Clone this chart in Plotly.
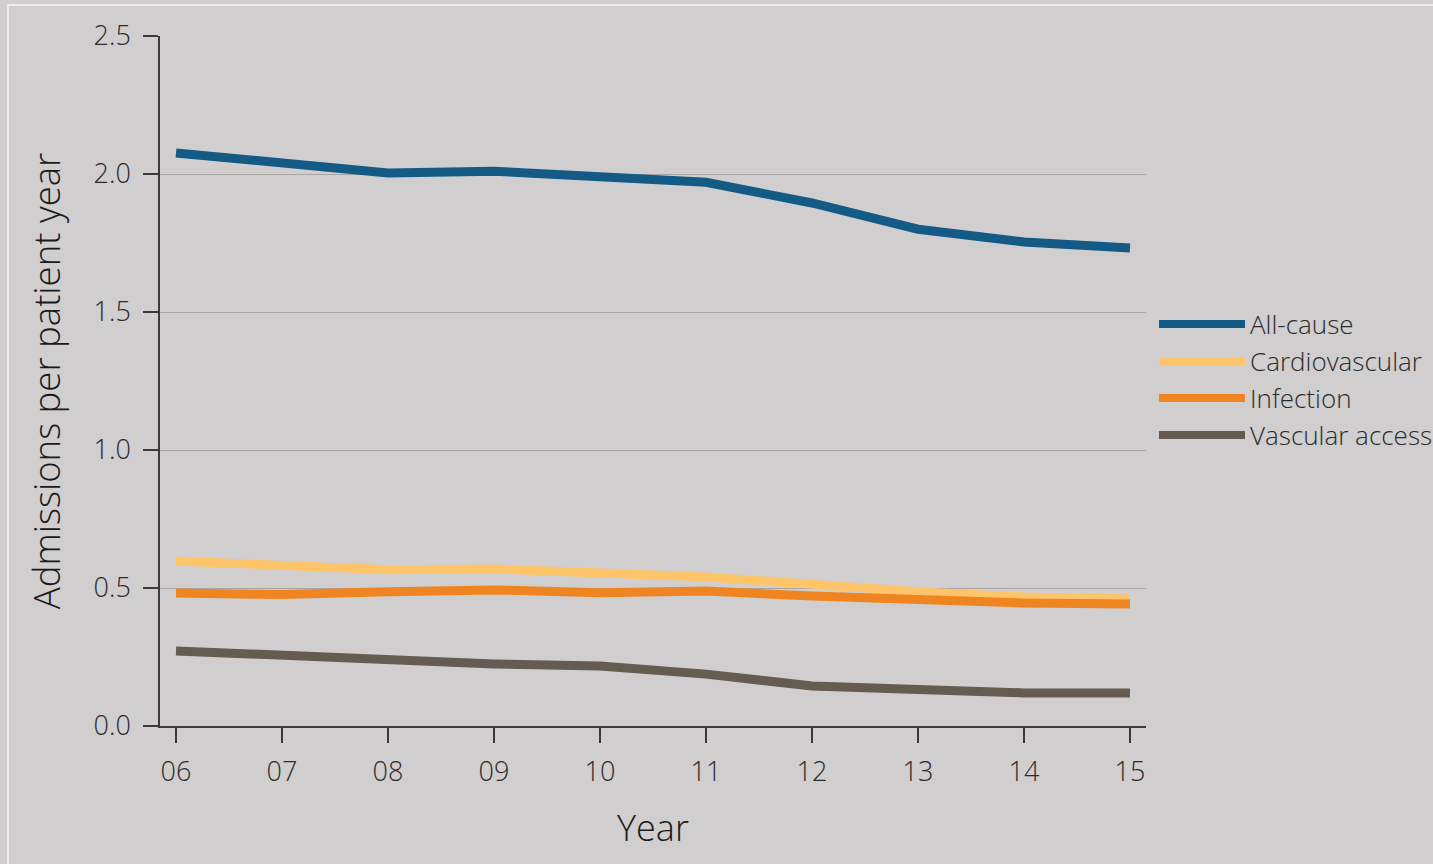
import plotly.graph_objects as go

# Hospital admissions per patient year, by cause
years = ["06", "07", "08", "09", "10", "11", "12", "13", "14", "15"]
all_cause = [2.076, 2.04, 2.004, 2.01, 1.99, 1.97, 1.895, 1.80, 1.754, 1.732]
cardiovascular = [0.598, 0.583, 0.566, 0.569, 0.558, 0.540, 0.514, 0.486, 0.467, 0.460]
infection = [0.482, 0.476, 0.486, 0.493, 0.483, 0.489, 0.471, 0.457, 0.446, 0.442]
vascular_access = [0.272, 0.254, 0.239, 0.225, 0.217, 0.188, 0.145, 0.130, 0.120, 0.120]

series_names = ["All-cause", "Cardiovascular", "Infection", "Vascular access"]
series_values = [all_cause, cardiovascular, infection, vascular_access]
series_colors = ["#135a85", "#fec46a", "#ee8520", "#655b51"]

y_ticks = [0.0, 0.5, 1.0, 1.5, 2.0, 2.5]
y_tick_text = ["0.0", "0.5", "1.0", "1.5", "2.0", "2.5"]

BG = "#d0cecf"
TEXT = "#2b2b2b"
FONT = "Open Sans"

fig = go.Figure()
x_idx = list(range(len(years)))
for name, vals, col in zip(series_names, series_values, series_colors):
    fig.add_trace(go.Scatter(
        x=x_idx, y=vals, mode="lines", name=name,
        line=dict(color=col, width=9, shape="linear"),
        showlegend=False, hoverinfo="x+y+name",
    ))

# Plot area in pixels
L, R, T, B = 160, 1146, 36, 726
W, H = 1433, 864
pw, ph = R - L, B - T

def px_x(px):
    return (px - L) / pw

def px_y(py):
    return (B - py) / ph

shapes = []
annotations = []

# Light outer frame
shapes.append(dict(type="rect", xref="paper", yref="paper",
                   x0=px_x(8), x1=px_x(1600), y0=px_y(1000), y1=px_y(5),
                   line=dict(color="#ececec", width=2), fillcolor="rgba(0,0,0,0)",
                   layer="below"))

# Legend: long line swatches with labels
leg_rows = [324, 361, 398, 435]
for name, col, ry in zip(series_names, series_colors, leg_rows):
    shapes.append(dict(type="line", xref="paper", yref="paper",
                       x0=px_x(1159), x1=px_x(1245), y0=px_y(ry), y1=px_y(ry),
                       line=dict(color=col, width=8)))
    annotations.append(dict(xref="paper", yref="paper", x=px_x(1248), y=px_y(ry),
                            text=name, showarrow=False, xanchor="left", yanchor="middle",
                            font=dict(family=FONT, size=26, color=TEXT, weight=300)))

fig.update_layout(
    width=W, height=H,
    margin=dict(l=L, r=W - R, t=T, b=H - B, pad=0),
    paper_bgcolor=BG, plot_bgcolor=BG,
    font=dict(family=FONT, color=TEXT),
    shapes=shapes, annotations=annotations,
    xaxis=dict(
        range=[-0.151, 9.151], tickmode="array", tickvals=x_idx, ticktext=years,
        showgrid=False, zeroline=False,
        showline=True, linecolor="#3a3a3a", linewidth=1.5,
        ticks="outside", ticklen=15, tickwidth=1.5, tickcolor="#3a3a3a",
        tickfont=dict(family=FONT, size=27, color=TEXT, weight=300),
        ticklabelstandoff=6,
        title=dict(text="Year", font=dict(family=FONT, size=36, color="#1a1a1a", weight=300), standoff=28),
        fixedrange=True,
    ),
    yaxis=dict(
        range=[0, 2.5], tickmode="array", tickvals=y_ticks, ticktext=y_tick_text,
        showgrid=True, gridcolor="#a9a5a5", gridwidth=1,
        zeroline=False,
        showline=True, linecolor="#3a3a3a", linewidth=1.5,
        ticks="outside", ticklen=15, tickwidth=1.5, tickcolor="#3a3a3a",
        tickfont=dict(family=FONT, size=27, color=TEXT, weight=300),
        ticklabelstandoff=7,
        title=dict(text="Admissions per patient year", font=dict(family=FONT, size=36.5, color="#1a1a1a", weight=300), standoff=22),
        fixedrange=True,
    ),
)

fig.write_html("out.html", config={"displayModeBar": False})
